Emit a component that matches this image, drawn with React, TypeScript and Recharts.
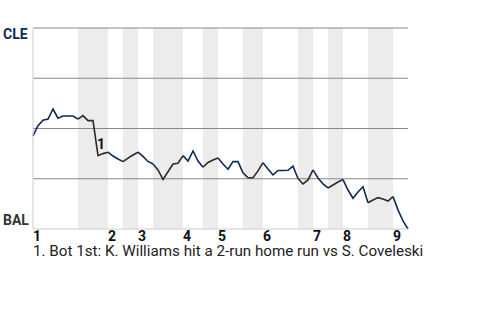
import React from 'react'
import {
  ComposedChart,
  Line,
  XAxis,
  YAxis,
  ReferenceArea,
  ReferenceLine,
} from 'recharts'

// CLE win probability (%) after each plate appearance
const winProb = [
  46.3, 51.4, 54.1, 54.7, 59.7, 55.1, 56.2, 56.2, 56.2, 54.7,
  56.4, 53.9, 53.9, 36.5, 37.5, 38.2, 36.3, 34.8, 33.5, 35.3,
  36.8, 38.2, 36.1, 33.6, 32.3, 29.4, 24.7, 28.5, 32.3, 32.7,
  36.5, 33.8, 38.8, 33.8, 30.7, 33.1, 34.3, 35.3, 32.3, 29.7,
  33.5, 33.5, 27.9, 25.5, 25.5, 28.9, 33.0, 29.9, 26.9, 29.1,
  29.1, 29.2, 31.3, 25.1, 22.4, 24.4, 29.4, 25.4, 22.4, 20.4,
  21.9, 23.4, 24.6, 19.4, 15.3, 18.4, 21.0, 13.1, 14.4, 15.6,
  14.9, 13.9, 16.1, 9.5, 4.0, 0,
]

// index where each half-inning ends (top 1st, bot 1st, top 2nd, ...)
const halfInningEnds = [9, 15, 18, 21, 24, 30, 34, 37, 42, 46, 53, 56, 59, 62, 67, 72, 75]
const innings = ['1', '2', '3', '4', '5', '6', '7', '8', '9']

const events = [
  { index: 13, label: '1', text: 'Bot 1st: K. Williams hit a 2-run home run vs S. Coveleski' },
]

const awayTeam = 'CLE'
const homeTeam = 'BAL'

const halves = halfInningEnds.map((end, i) => ({
  start: i === 0 ? 0 : halfInningEnds[i - 1],
  end,
  top: i % 2 === 0,
}))

const data = winProb.map((v, idx) => {
  const inTop = halves.some((h) => h.top && idx >= h.start && idx <= h.end)
  const inBot = halves.some((h) => !h.top && idx >= h.start && idx <= h.end)
  return { idx, top: inTop ? v : null, bot: inBot ? v : null }
})

const inningTicks = halves.filter((h) => h.top).map((h) => h.start)

const NAVY = '#0c2c56'
const DARK = '#2b2b2b'

const InningTick = (props: any) => {
  const { x, y, payload } = props
  const n = inningTicks.indexOf(payload.value)
  return (
    <text x={x} y={y + 4} textAnchor="start" fontSize={14} fontWeight="bold" fill="#111" fontFamily="Roboto">
      {innings[n]}
    </text>
  )
}

const TeamTick = (props: any) => {
  const { y, payload } = props
  const isTop = payload.value === 100
  return (
    <text
      x={3}
      y={isTop ? y + 11 : y - 4}
      textAnchor="start"
      fontSize={14}
      fontWeight="bold"
      fill={isTop ? NAVY : '#333'}
      fontFamily="Roboto"
    >
      {isTop ? awayTeam : homeTeam}
    </text>
  )
}

const EventLabel = (props: any) => {
  const { x, y, index } = props
  const ev = events.find((e) => e.index === index)
  if (!ev) return null
  return (
    <text x={x - 1} y={y - 7} fontSize={14} fontWeight="bold" fill="#111" fontFamily="Roboto">
      {ev.label}
    </text>
  )
}

export default function App() {
  return (
    <div style={{ position: 'absolute', left: 0, top: 0, width: 480, height: 320, fontFamily: 'Roboto' }}>
      <ComposedChart
        width={480}
        height={320}
        data={data}
        margin={{ top: 28, right: 72, bottom: 71, left: 0 }}
      >
        {halves
          .filter((h) => !h.top)
          .map((h) => (
            <ReferenceArea key={h.start} x1={h.start} x2={h.end} fill="#ececec" fillOpacity={1} stroke="none" />
          ))}
        {[25, 50, 75, 100].map((v) => (
          <ReferenceLine key={v} y={v} stroke="#888" strokeWidth={1} />
        ))}
        <XAxis
          dataKey="idx"
          type="number"
          domain={[0, winProb.length - 1]}
          ticks={inningTicks}
          interval={0}
          height={20}
          tickLine={false}
          axisLine={{ stroke: '#ccc' }}
          tick={<InningTick />}
        />
        <YAxis
          type="number"
          domain={[0, 100]}
          ticks={[0, 100]}
          width={33}
          tickLine={false}
          axisLine={{ stroke: '#ccc' }}
          tick={<TeamTick />}
        />
        <Line
          dataKey="top"
          stroke={NAVY}
          strokeWidth={1.6}
          dot={false}
          type="linear"
          isAnimationActive={false}
        />
        <Line
          dataKey="bot"
          stroke={DARK}
          strokeWidth={1.6}
          dot={false}
          type="linear"
          isAnimationActive={false}
          label={<EventLabel />}
        />
      </ComposedChart>
      <div
        style={{
          position: 'absolute',
          left: 33,
          top: 243,
          fontSize: 15.2,
          lineHeight: '17px',
          color: '#222',
          whiteSpace: 'nowrap',
        }}
      >
        {events.map((e) => `${e.label}. ${e.text}`).join(' ')}
      </div>
    </div>
  )
}
